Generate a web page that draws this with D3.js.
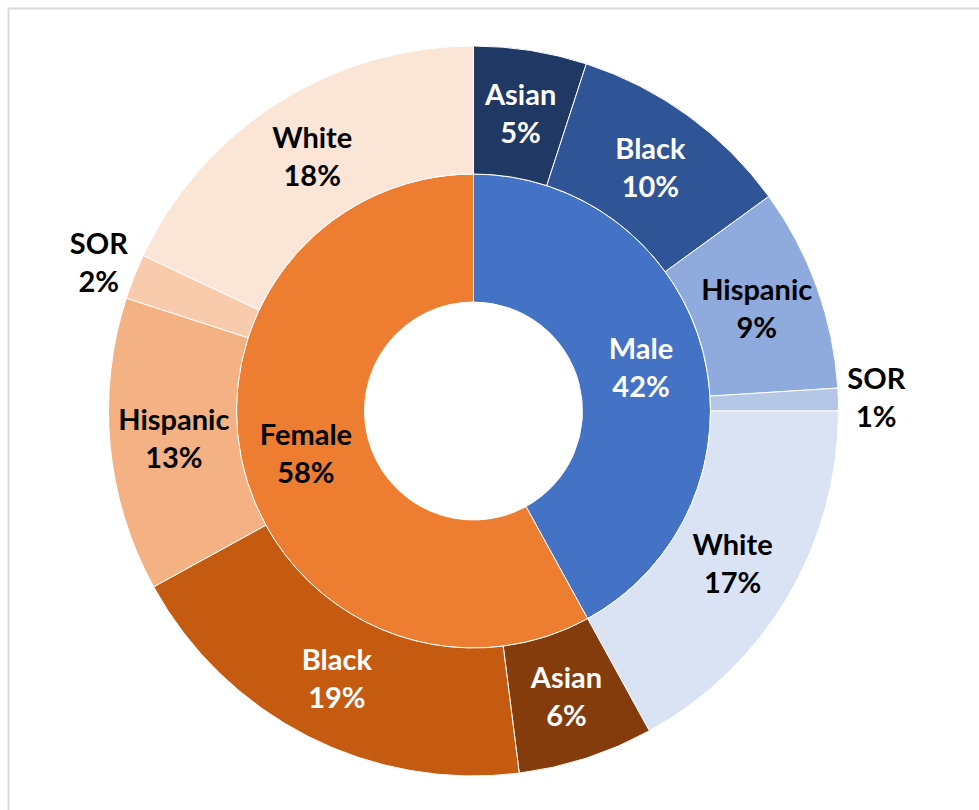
<!DOCTYPE html>
<html>
<head>
<meta charset="utf-8">
<script src="https://cdn.jsdelivr.net/npm/d3@7"></script>
<style>
  html, body { margin: 0; padding: 0; background: #ffffff; }
  svg { display: block; }
</style>
</head>
<body>
<svg id="chart" width="979" height="810"></svg>
<script>
// Share of enrolment by gender (inner ring) and gender × race (outer ring), in %
const genders = ["Male", "Female"];
const genderValues = [42, 58];
const races = ["Asian", "Black", "Hispanic", "SOR", "White"];
const maleValues = [5, 10, 9, 1, 17];
const femaleValues = [6, 19, 13, 2, 18];

// Colours
const genderColors = { Male: "#4472C4", Female: "#ED7D31" };
const genderTextColors = { Male: "#ffffff", Female: "#000000" };
const raceColors = {
  Male:   ["#203864", "#2F5597", "#8FAADC", "#B4C7E7", "#DAE3F3"],
  Female: ["#843C0C", "#C55A11", "#F4B183", "#F8CBAD", "#FBE5D6"]
};
const raceTextColors = ["#ffffff", "#ffffff", "#000000", "#000000", "#000000"];

const svg = d3.select("#chart");
const W = 979, H = 810;

// Frame
svg.append("rect")
  .attr("x", 8.5).attr("y", 8.5)
  .attr("width", W + 20).attr("height", H + 20)
  .attr("fill", "#ffffff")
  .attr("stroke", "#d9d9d9").attr("stroke-width", 2);

const cx = 473.5, cy = 411;
const rHole = 109, rMid = 237, rOuter = 365, rOutsideLabel = 403;

const g = svg.append("g").attr("transform", `translate(${cx},${cy})`);

const pie = d3.pie().sort(null).value(d => d.value);

// Inner ring: gender
const innerData = pie(genders.map((k, i) => ({ key: k, value: genderValues[i] })));
// Outer ring: gender × race, in the same angular order
const outerRows = [];
genders.forEach(gk => {
  const vals = gk === "Male" ? maleValues : femaleValues;
  races.forEach((r, i) => outerRows.push({ gender: gk, race: r, idx: i, value: vals[i] }));
});
const outerData = pie(outerRows);

const innerArc = d3.arc().innerRadius(rHole).outerRadius(rMid);
const outerArc = d3.arc().innerRadius(rMid).outerRadius(rOuter);
const outsideArc = d3.arc().innerRadius(rOutsideLabel).outerRadius(rOutsideLabel);

g.selectAll("path.inner")
  .data(innerData).join("path")
  .attr("class", "inner")
  .attr("d", innerArc)
  .attr("fill", d => genderColors[d.data.key])
  .attr("stroke", "#ffffff").attr("stroke-width", 1);

g.selectAll("path.outer")
  .data(outerData).join("path")
  .attr("class", "outer")
  .attr("d", outerArc)
  .attr("fill", d => raceColors[d.data.gender][d.data.idx])
  .attr("stroke", "#ffffff").attr("stroke-width", 1);

const fontFamily = "Lato, 'Open Sans', sans-serif";
const fontSize = 29;
const lineGap = 38;

function twoLineLabel(sel, pos, l1, l2, color) {
  const t = sel.append("text")
    .attr("transform", `translate(${pos[0]},${pos[1]})`)
    .attr("text-anchor", "middle")
    .attr("font-family", fontFamily)
    .attr("font-weight", 700)
    .attr("font-size", fontSize)
    .attr("fill", color);
  t.append("tspan").attr("x", 0).attr("y", -lineGap / 2).attr("dy", "0.35em").text(l1);
  t.append("tspan").attr("x", 0).attr("y", lineGap / 2).attr("dy", "0.35em").text(l2);
}

innerData.forEach(d => {
  twoLineLabel(g, innerArc.centroid(d), d.data.key, d.data.value + "%", genderTextColors[d.data.key]);
});

outerData.forEach(d => {
  const small = d.data.value < 3;
  const pos = small ? outsideArc.centroid(d) : outerArc.centroid(d);
  const color = small ? "#000000" : raceTextColors[d.data.idx];
  twoLineLabel(g, pos, d.data.race, d.data.value + "%", color);
});
</script>
</body>
</html>
